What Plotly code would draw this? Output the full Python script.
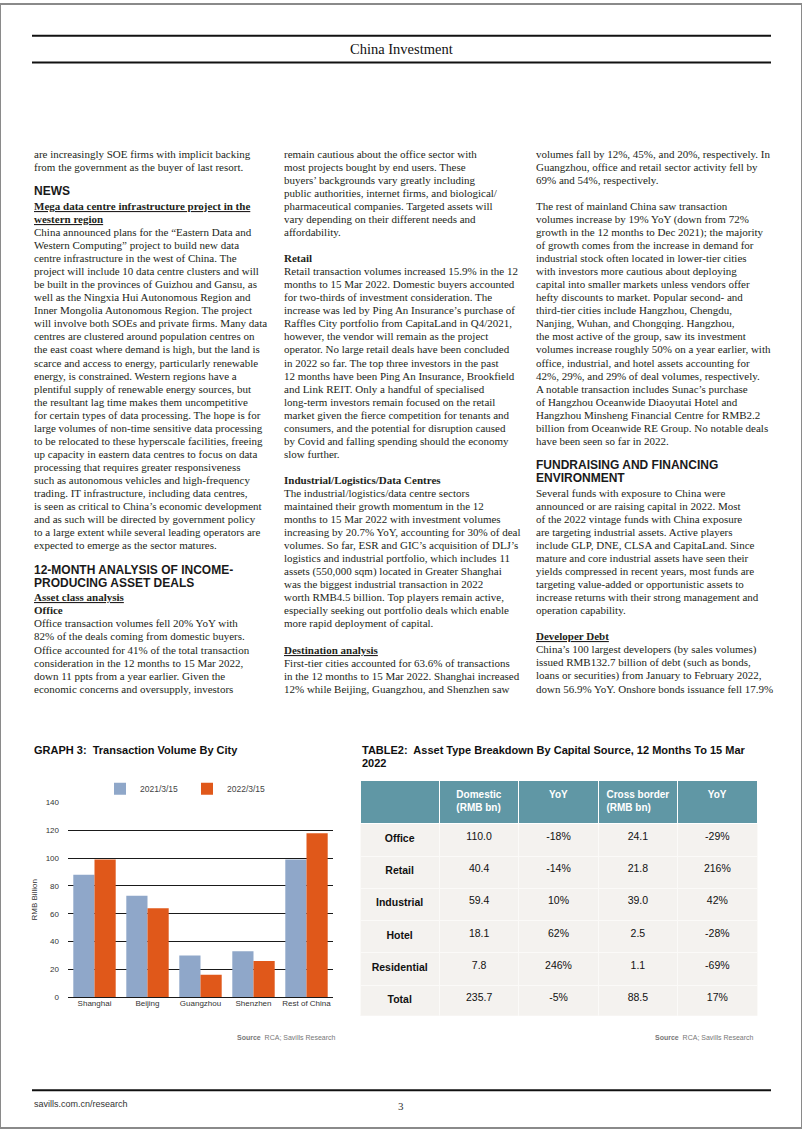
import plotly.graph_objects as go

W, H = 802, 1133

# ---------------- chart data ----------------
cities = ["Shanghai", "Beijing", "Guangzhou", "Shenzhen", "Rest of China"]
vol_2021 = [88, 73, 30, 33, 99]
vol_2022 = [99, 64, 16, 26, 118]
series_names = ["2021/3/15", "2022/3/15"]

# ---------------- table data ----------------
table_header = ["", "Domestic<br>(RMB bn)", "YoY", "Cross border<br>(RMB bn)", "YoY"]
asset_types = ["Office", "Retail", "Industrial", "Hotel", "Residential", "Total"]
domestic_bn = ["110.0", "40.4", "59.4", "18.1", "7.8", "235.7"]
domestic_yoy = ["-18%", "-14%", "10%", "62%", "246%", "-5%"]
cross_bn = ["24.1", "21.8", "39.0", "2.5", "1.1", "88.5"]
cross_yoy = ["-29%", "216%", "42%", "-28%", "-69%", "17%"]

# ---------------- page text (one entry per printed line) ----------------
# prefixes: "H:" sans heading, "U:" bold underlined, "B:" bold serif
col1_lines = [
    "are increasingly SOE firms with implicit backing",
    "from the government as the buyer of last resort.",
    "",
    "H:NEWS",
    "U:Mega data centre infrastructure project in the",
    "U:western region",
    "China announced plans for the “Eastern Data and",
    "Western Computing” project to build new data",
    "centre infrastructure in the west of China. The",
    "project will include 10 data centre clusters and will",
    "be built in the provinces of Guizhou and Gansu, as",
    "well as the Ningxia Hui Autonomous Region and",
    "Inner Mongolia Autonomous Region. The project",
    "will involve both SOEs and private firms. Many data",
    "centres are clustered around population centres on",
    "the east coast where demand is high, but the land is",
    "scarce and access to energy, particularly renewable",
    "energy, is constrained. Western regions have a",
    "plentiful supply of renewable energy sources, but",
    "the resultant lag time makes them uncompetitive",
    "for certain types of data processing. The hope is for",
    "large volumes of non-time sensitive data processing",
    "to be relocated to these hyperscale facilities, freeing",
    "up capacity in eastern data centres to focus on data",
    "processing that requires greater responsiveness",
    "such as autonomous vehicles and high-frequency",
    "trading. IT infrastructure, including data centres,",
    "is seen as critical to China’s economic development",
    "and as such will be directed by government policy",
    "to a large extent while several leading operators are",
    "expected to emerge as the sector matures.",
    "",
    "H:12-MONTH ANALYSIS OF INCOME-",
    "H:PRODUCING ASSET DEALS",
    "U:Asset class analysis",
    "B:Office",
    "Office transaction volumes fell 20% YoY with",
    "82% of the deals coming from domestic buyers.",
    "Office accounted for 41% of the total transaction",
    "consideration in the 12 months to 15 Mar 2022,",
    "down 11 ppts from a year earlier. Given the",
    "economic concerns and oversupply, investors",
]
col2_lines = [
    "remain cautious about the office sector with",
    "most projects bought by end users. These",
    "buyers’ backgrounds vary greatly including",
    "public authorities, internet firms, and biological/",
    "pharmaceutical companies. Targeted assets will",
    "vary depending on their different needs and",
    "affordability.",
    "",
    "B:Retail",
    "Retail transaction volumes increased 15.9% in the 12",
    "months to 15 Mar 2022. Domestic buyers accounted",
    "for two-thirds of investment consideration. The",
    "increase was led by Ping An Insurance’s purchase of",
    "Raffles City portfolio from CapitaLand in Q4/2021,",
    "however, the vendor will remain as the project",
    "operator. No large retail deals have been concluded",
    "in 2022 so far. The top three investors in the past",
    "12 months have been Ping An Insurance, Brookfield",
    "and Link REIT. Only a handful of specialised",
    "long-term investors remain focused on the retail",
    "market given the fierce competition for tenants and",
    "consumers, and the potential for disruption caused",
    "by Covid and falling spending should the economy",
    "slow further.",
    "",
    "B:Industrial/Logistics/Data Centres",
    "The industrial/logistics/data centre sectors",
    "maintained their growth momentum in the 12",
    "months to 15 Mar 2022 with investment volumes",
    "increasing by 20.7% YoY, accounting for 30% of deal",
    "volumes. So far, ESR and GIC’s acquisition of DLJ’s",
    "logistics and industrial portfolio, which includes 11",
    "assets (550,000 sqm) located in Greater Shanghai",
    "was the biggest industrial transaction in 2022",
    "worth RMB4.5 billion. Top players remain active,",
    "especially seeking out portfolio deals which enable",
    "more rapid deployment of capital.",
    "",
    "U:Destination analysis",
    "First-tier cities accounted for 63.6% of transactions",
    "in the 12 months to 15 Mar 2022. Shanghai increased",
    "12% while Beijing, Guangzhou, and Shenzhen saw",
]
col3_lines = [
    "volumes fall by 12%, 45%, and 20%, respectively. In",
    "Guangzhou, office and retail sector activity fell by",
    "69% and 54%, respectively.",
    "",
    "The rest of mainland China saw transaction",
    "volumes increase by 19% YoY (down from 72%",
    "growth in the 12 months to Dec 2021); the majority",
    "of growth comes from the increase in demand for",
    "industrial stock often located in lower-tier cities",
    "with investors more cautious about deploying",
    "capital into smaller markets unless vendors offer",
    "hefty discounts to market. Popular second- and",
    "third-tier cities include Hangzhou, Chengdu,",
    "Nanjing, Wuhan, and Chongqing. Hangzhou,",
    "the most active of the group, saw its investment",
    "volumes increase roughly 50% on a year earlier, with",
    "office, industrial, and hotel assets accounting for",
    "42%, 29%, and 29% of deal volumes, respectively.",
    "A notable transaction includes Sunac’s purchase",
    "of Hangzhou Oceanwide Diaoyutai Hotel and",
    "Hangzhou Minsheng Financial Centre for RMB2.2",
    "billion from Oceanwide RE Group. No notable deals",
    "have been seen so far in 2022.",
    "",
    "H:FUNDRAISING AND FINANCING",
    "H:ENVIRONMENT",
    "Several funds with exposure to China were",
    "announced or are raising capital in 2022. Most",
    "of the 2022 vintage funds with China exposure",
    "are targeting industrial assets. Active players",
    "include GLP, DNE, CLSA and CapitaLand. Since",
    "mature and core industrial assets have seen their",
    "yields compressed in recent years, most funds are",
    "targeting value-added or opportunistic assets to",
    "increase returns with their strong management and",
    "operation capability.",
    "",
    "U:Developer Debt",
    "China’s 100 largest developers (by sales volumes)",
    "issued RMB132.7 billion of debt (such as bonds,",
    "loans or securities) from January to February 2022,",
    "down 56.9% YoY. Onshore bonds issuance fell 17.9%",
]

# ---------------- layout constants ----------------
SERIF = "Liberation Serif"
SANS = "Liberation Sans"
TEXT_COLOR = "#231f20"
COL_X = [33, 283, 535]
LINE0_Y = 151
PITCH = 13.15


def px(x):
    return x / W


def py(y):
    return 1 - y / H


annotations = []


def add_text(x, y, text, size=11, family=SERIF, color=TEXT_COLOR, xanchor="left"):
    annotations.append(dict(
        x=px(x), y=py(y), xref="paper", yref="paper", text=text,
        showarrow=False, xanchor=xanchor, yanchor="middle",
        font=dict(family=family, size=size, color=color), borderpad=0,
    ))


for cx, lines in zip(COL_X, [col1_lines, col2_lines, col3_lines]):
    for i, line in enumerate(lines):
        if not line:
            continue
        y = LINE0_Y + i * PITCH
        if line.startswith("H:"):
            add_text(cx, y - 1.5, "<b>" + line[2:] + "</b>", size=12, family=SANS, color="#1a1a1a")
        elif line.startswith("U:"):
            add_text(cx, y, "<b><u>" + line[2:] + "</u></b>", size=11)
        elif line.startswith("B:"):
            add_text(cx, y, "<b>" + line[2:] + "</b>", size=11)
        else:
            add_text(cx, y, line, size=11)

# header / footer
add_text(401, 45, "China Investment", size=14.5, family=SERIF, color="#111111", xanchor="center")
add_text(33, 1109, "savills.com.cn/research", size=9, family=SANS, color="#333333")
add_text(401, 1111, "3", size=11, family=SERIF, color="#333333", xanchor="center")

# chart / table titles and sources
add_text(33, 752, "<b>GRAPH 3:\u00a0 Transaction Volume By City</b>", size=11, family=SANS, color="#111111")
add_text(361, 752, "<b>TABLE2:\u00a0 Asset Type Breakdown By Capital Source, 12 Months To 15 Mar</b>",
         size=11, family=SANS, color="#111111")
add_text(361, 765, "<b>2022</b>", size=11, family=SANS, color="#111111")
add_text(337, 1042, "<b>Source</b>\u00a0 RCA; Savills Research", size=7, family=SANS, color="#777777", xanchor="right")
add_text(755, 1042, "<b>Source</b>\u00a0 RCA; Savills Research", size=7, family=SANS, color="#777777", xanchor="right")

shapes = [
    dict(type="rect", xref="paper", yref="paper", x0=0, y0=0, x1=1, y1=1,
         line=dict(color="#8a8a8a", width=2)),
    dict(type="line", xref="paper", yref="paper", x0=px(32), x1=px(771), y0=py(32), y1=py(32),
         line=dict(color="#111111", width=2)),
    dict(type="line", xref="paper", yref="paper", x0=px(32), x1=px(771), y0=py(59), y1=py(59),
         line=dict(color="#111111", width=2)),
    dict(type="line", xref="paper", yref="paper", x0=px(32), x1=px(771), y0=py(1095), y1=py(1095),
         line=dict(color="#111111", width=2)),
]

fig = go.Figure()

colors = ["#8FA7C9", "#E0581A"]
for name, vals, col in zip(series_names, [vol_2021, vol_2022], colors):
    fig.add_trace(go.Bar(x=cities, y=vals, name=name, marker=dict(color=col, line=dict(width=0)),
                         xaxis="x", yaxis="y"))

fig.add_trace(go.Table(
    domain=dict(x=[px(360), px(757)], y=[py(1020), py(783)]),
    columnwidth=[1, 1, 1, 1, 1],
    header=dict(
        values=["<b>" + h + "</b>" for h in table_header],
        fill_color="#6097A5", line=dict(color="white", width=1),
        font=dict(family=SANS, size=10, color="white"), align="center", height=43,
    ),
    cells=dict(
        values=[["<b>" + a + "</b>" for a in asset_types], domestic_bn, domestic_yoy, cross_bn, cross_yoy],
        fill_color="#F4F2EF", line=dict(color="#FBFAF8", width=1),
        font=dict(family=SANS, size=10.5, color="#111111"), align="center", height=32.3,
    ),
))

fig.update_layout(
    width=W, height=H,
    margin=dict(l=0, r=0, t=0, b=0),
    paper_bgcolor="white", plot_bgcolor="white",
    barmode="group", bargap=0.2, bargroupgap=0,
    showlegend=True,
    legend=dict(orientation="h", x=px(187), xanchor="center", y=py(791), yanchor="middle",
                font=dict(family=SANS, size=8.5, color="#444444"), itemwidth=30,
                entrywidth=42, entrywidthmode="pixels",
                bgcolor="rgba(0,0,0,0)"),
    xaxis=dict(domain=[px(68), px(333)], anchor="y", showgrid=False, showline=False, ticks="",
               tickfont=dict(family=SANS, size=8, color="#333333"), fixedrange=True),
    yaxis=dict(domain=[py(1001), py(805)], anchor="x", range=[0, 140], dtick=20,
               showgrid=True, gridcolor="#1a1a1a", gridwidth=1.3,
               zeroline=True, zerolinecolor="#1a1a1a", zerolinewidth=1.3,
               showline=False, ticks="", ticklabelstandoff=8,
               tickfont=dict(family=SANS, size=8, color="#333333"),
               title=dict(text="RMB Billion", font=dict(family=SANS, size=8, color="#333333"), standoff=6)),
    annotations=annotations,
    shapes=shapes,
)

fig.write_html(
    "out.html",
    config={"displayModeBar": False},
    post_script="document.body.style.margin='0';document.body.style.overflow='hidden';",
)
